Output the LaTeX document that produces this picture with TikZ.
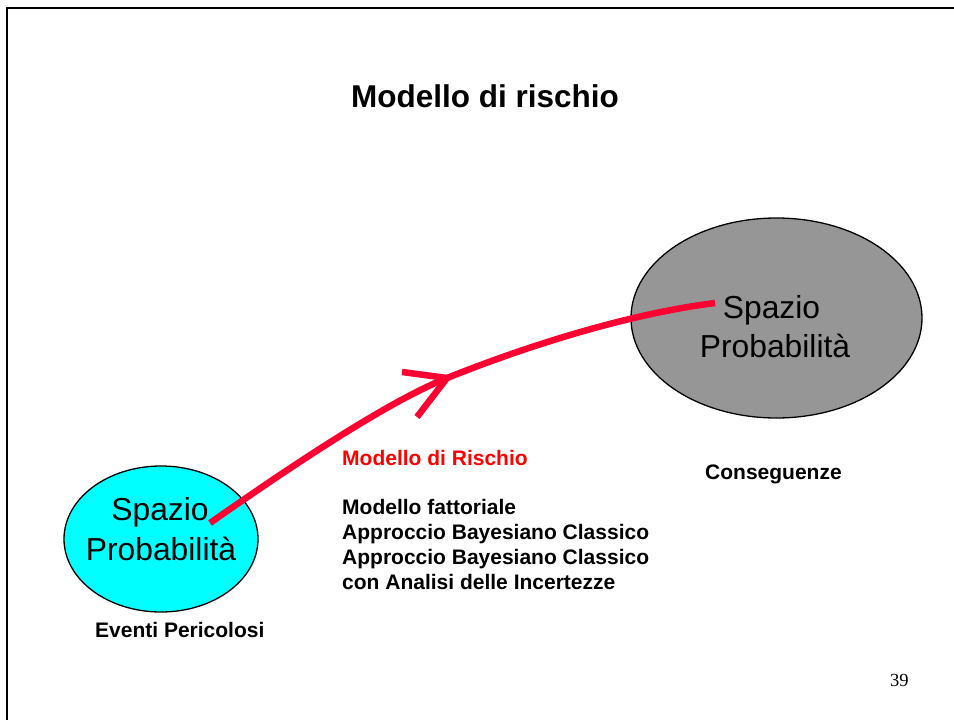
\documentclass[tikz,border=0pt]{standalone}
\usepackage{fontspec}
\setmainfont{Liberation Sans}
\newfontfamily\numfont{Liberation Serif}
\usetikzlibrary{shapes.geometric}

\definecolor{riskred}{RGB}{255,0,51}
\definecolor{spacecyan}{RGB}{0,255,255}
\definecolor{spacegray}{RGB}{150,150,150}

\tikzset{
  frameline/.style={line width=2pt, black},
  spacebox/.style={ellipse, draw=black, line width=1.3pt, inner sep=0pt},
  bigtext/.style={inner sep=0pt, anchor=base, font=\fontsize{31.8}{40}\selectfont},
  label/.style={inner sep=0pt, anchor=base west, font=\bfseries\fontsize{21}{25}\selectfont},
  riskline/.style={riskred, line width=6.5pt},
  riskhead/.style={riskred, line width=6.5pt, line join=miter}
}

\begin{document}
\begin{tikzpicture}[x=1pt, y=-1pt]
  \useasboundingbox (0,0) rectangle (954,720);

  % slide frame (left and top edges)
  \draw[frameline] (7,720) -- (7,8) -- (954,8);

  % title
  \node[inner sep=0pt, anchor=base, font=\bfseries\fontsize{31.5}{38}\selectfont]
    (title) at (485,107) {Modello di rischio};

  % the two probability spaces
  \node[spacebox, fill=spacecyan, minimum width=194pt, minimum height=146pt]
    (left) at (161,539) {};
  \node[spacebox, fill=spacegray, minimum width=291pt, minimum height=200pt]
    (right) at (776.5,318) {};

  % risk model curve with open arrowhead
  \coordinate (s) at (210,523);
  \coordinate (tip) at (447,378);
  \coordinate (e) at (715,303);
  \coordinate (barbA) at (402,372);
  \coordinate (barbB) at (417,417);
  \draw[riskline] (s) .. controls (290,467) and (387,402) .. (tip)
                      .. controls (537,342) and (635,313) .. (e);
  \draw[riskhead] (barbA) -- (tip) -- (barbB);

  % texts inside the ellipses
  \node[bigtext] (lsp) at (160,520) {Spazio};
  \node[bigtext] (lpr) at (161,560) {Probabilità};
  \node[bigtext] (rsp) at (771.5,318) {Spazio};
  \node[bigtext] (rpr) at (775,357) {Probabilità};

  % captions
  \node[label, text=red] (model) at (342,465) {Modello di Rischio};
  \node[label] (m1) at (342,514) {Modello fattoriale};
  \node[label] (m2) at (342,539) {Approccio Bayesiano Classico};
  \node[label] (m3) at (342,564) {Approccio Bayesiano Classico};
  \node[label] (m4) at (342,589) {con Analisi delle Incertezze};
  \node[label] (cons) at (705,479) {Conseguenze};
  \node[label] (events) at (95,637) {Eventi Pericolosi};

  % page number
  \node[inner sep=0pt, anchor=base west, font=\numfont\fontsize{18.5}{22}\selectfont]
    (page) at (890,686) {39};
\end{tikzpicture}
\end{document}
